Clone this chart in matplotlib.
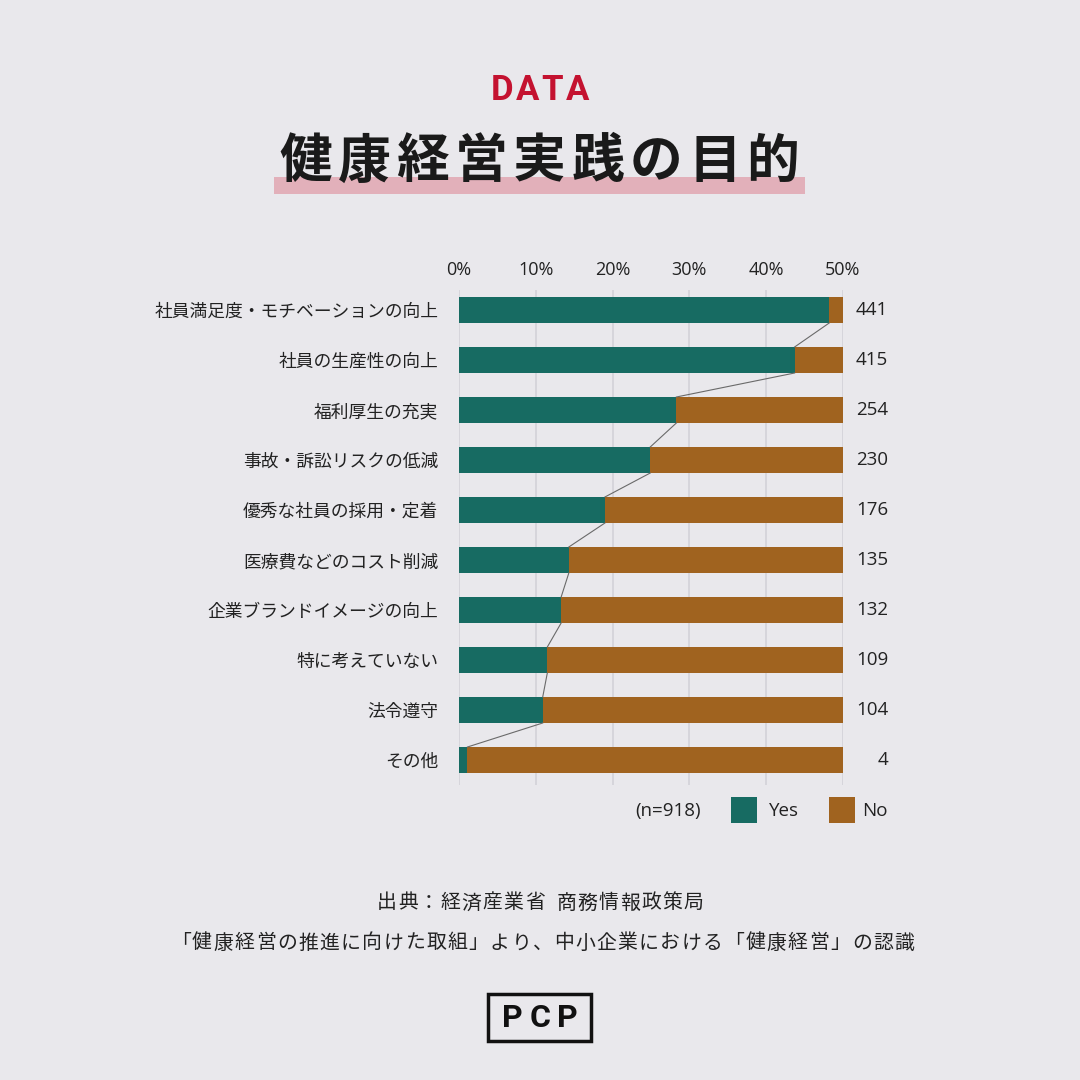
import matplotlib
matplotlib.use("Agg")
import matplotlib.pyplot as plt
from matplotlib.patches import Rectangle

plt.rcParams['font.family'] = ['Noto Sans CJK JP', 'DejaVu Sans']

categories = ["社員満足度・モチベーションの向上", "社員の生産性の向上", "福利厚生の充実",
              "事故・訴訟リスクの低減", "優秀な社員の採用・定着", "医療費などのコスト削減",
              "企業ブランドイメージの向上", "特に考えていない", "法令遵守", "その他"]
counts = [441, 415, 254, 230, 176, 135, 132, 109, 104, 4]
yes_pct = [48.2, 43.7, 28.3, 24.9, 19.0, 14.3, 13.3, 11.5, 10.9, 1.1]
no_pct = [1.8, 6.3, 21.7, 25.1, 31.0, 35.7, 36.7, 38.5, 39.1, 48.9]
xticks = [0, 10, 20, 30, 40, 50]
xtick_labels = ["0%", "10%", "20%", "30%", "40%", "50%"]

BG = "#E9E8EC"
TEAL = "#176B62"
BROWN = "#A0631F"
W, H = 1080, 1080
LATIN = ["Open Sans", "DejaVu Sans"]
BOLD_LATIN = ["Roboto", "DejaVu Sans"]

fig = plt.figure(figsize=(10.8, 10.8), dpi=100, facecolor=BG)

def fx(px):
    return px / W

def fy(py):
    return 1 - py / H

def spaced(text, x0, x1, y, **kw):
    # place characters one by one to reproduce letter spacing
    widths = [0.5 if ch == " " else 1.0 for ch in text]
    pitch = (x1 - x0) / sum(widths)
    x = x0
    for ch, w in zip(text, widths):
        if ch != " ":
            fig.text(fx(x + pitch * w / 2), fy(y), ch, ha="center", va="center", **kw)
        x += pitch * w

# Header
spaced("DATA", 490, 590, 90, color="#C41230", fontsize=25, fontweight="bold",
       family=BOLD_LATIN)
fig.patches.append(Rectangle((fx(274), fy(194)), fx(805) - fx(274), (194 - 177) / H,
                             transform=fig.transFigure, facecolor="#E2B0BA",
                             edgecolor="none", zorder=0))
spaced("健康経営実践の目的", 277, 802, 162, fontsize=38, fontweight="bold",
       color="#1A1A1A", zorder=3)

# Chart
ax = fig.add_axes([fx(459), fy(785), fx(843) - fx(459), (785 - 290) / H])
ax.set_facecolor(BG)
n = len(categories)
ypos = list(range(n))
bh = 0.52
ax.barh(ypos, yes_pct, height=bh, color=TEAL, zorder=3)
ax.barh(ypos, no_pct, left=yes_pct, height=bh, color=BROWN, zorder=3)
for i in range(n - 1):
    ax.plot([yes_pct[i], yes_pct[i + 1]], [i + bh / 2, i + 1 - bh / 2],
            color="#6A6A6A", lw=0.8, zorder=4)
ax.set_xlim(0, 50)
ax.set_ylim(n - 0.5, -0.4)
ax.set_xticks(xticks)
ax.set_xticklabels(xtick_labels, fontsize=13, color="#222222", family=LATIN)
ax.xaxis.tick_top()
ax.tick_params(axis="x", length=0, pad=8)
ax.set_yticks(ypos)
ax.set_yticklabels(categories, fontsize=12.8, color="#222222")
ax.tick_params(axis="y", length=0, pad=15)
ax.grid(axis="x", color="#D3D2D8", lw=1.2, zorder=0)
for s in ax.spines.values():
    s.set_visible(False)
for i, c in enumerate(counts):
    ax.annotate(str(c), xy=(50, i), xytext=(32.5, 0), textcoords="offset points",
                ha="right", va="center", fontsize=13.5, color="#222222", family=LATIN)

# Legend
fig.text(fx(668), fy(811), "(n=918)", fontsize=13.5, ha="center", va="center",
         color="#222222", family=LATIN)
fig.patches.append(Rectangle((fx(731), fy(823)), 26 / W, 26 / H, transform=fig.transFigure,
                             facecolor=TEAL, edgecolor="none"))
fig.text(fx(769), fy(811), "Yes", fontsize=13.5, ha="left", va="center",
         color="#222222", family=LATIN)
fig.patches.append(Rectangle((fx(829), fy(823)), 26 / W, 26 / H, transform=fig.transFigure,
                             facecolor=BROWN, edgecolor="none"))
fig.text(fx(862), fy(811), "No", fontsize=13.5, ha="left", va="center",
         color="#222222", family=LATIN)

# Source
spaced("出典：経済産業省 商務情報政策局", 376, 704, 903, fontsize=14.3, color="#222222")
spaced("「健康経営の推進に向けた取組」より、中小企業における「健康経営」の認識", 170, 915, 943,
       fontsize=14.3, color="#222222")

# Logo
fig.patches.append(Rectangle((fx(488), fy(1041)), (591 - 488) / W, (1041 - 994) / H,
                             transform=fig.transFigure, facecolor="none",
                             edgecolor="#111111", lw=2.5))
spaced("PCP", 499, 581, 1018, fontsize=23, fontweight="bold", color="#111111",
       family=BOLD_LATIN)

fig.savefig("out.png", dpi=100, facecolor=BG)
